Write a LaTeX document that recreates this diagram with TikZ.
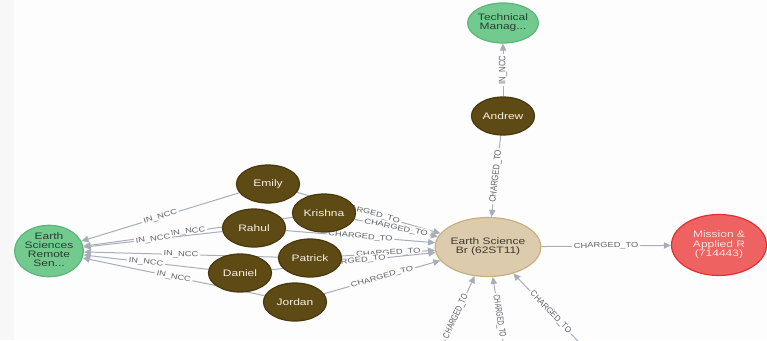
\documentclass[tikz,border=0pt]{standalone}
\usepackage{fontspec}
\setmainfont{Liberation Sans}
\usetikzlibrary{shapes.geometric,arrows.meta}

\pgfdeclarelayer{paper}
\pgfdeclarelayer{links}
\pgfsetlayers{paper,links,main}

% palette
\definecolor{personfill}{RGB}{94,74,20}
\definecolor{persondraw}{RGB}{72,56,12}
\definecolor{persontext}{RGB}{246,242,228}
\definecolor{nccfill}{RGB}{114,202,142}
\definecolor{nccdraw}{RGB}{92,182,120}
\definecolor{ncctext}{RGB}{42,62,48}
\definecolor{branchfill}{RGB}{220,203,172}
\definecolor{branchdraw}{RGB}{200,175,128}
\definecolor{branchtext}{RGB}{62,58,50}
\definecolor{missionfill}{RGB}{238,98,98}
\definecolor{missiondraw}{RGB}{226,48,48}
\definecolor{missiontext}{RGB}{252,228,228}
\definecolor{linkgray}{RGB}{168,174,184}
\definecolor{labelgray}{RGB}{96,98,104}
\definecolor{paperwhite}{RGB}{253,253,254}
\definecolor{sidestrip}{RGB}{247,247,247}

% text is set slightly flattened
\newcommand\squash[1]{\scalebox{1}[0.78]{#1}}
\newcommand\stack[1]{\squash{\begin{tabular}{@{}c@{}}#1\end{tabular}}}
% labels on steep links are shortened along their run instead
\newcommand\along[2]{\scalebox{#1}[1]{#2}}

\tikzset{
  bubble/.style={ellipse, line width=1.2pt, inner sep=0pt,
    font=\fontsize{12}{10.5}\selectfont},
  person/.style={bubble, draw=persondraw, fill=personfill, text=persontext,
    minimum width=63pt, minimum height=38pt},
  ncc/.style={bubble, draw=nccdraw, fill=nccfill, text=ncctext,
    minimum width=62pt, minimum height=40pt},
  branch/.style={bubble, draw=branchdraw, fill=branchfill, text=branchtext,
    minimum width=100pt, minimum height=59pt},
  mission/.style={bubble, draw=missiondraw, fill=missionfill, text=missiontext,
    minimum width=95pt, minimum height=61pt},
  link/.style={draw=linkgray, line width=1pt,
    -{Triangle[length=7pt,width=6.5pt,fill=linkgray]}},
  lbl/.style={sloped, midway, fill=paperwhite, inner sep=1.8pt, text=labelgray,
    font=\fontsize{9.3}{9.3}\selectfont},
}

\begin{document}
\begin{tikzpicture}[x=1pt,y=-1pt]
  \useasboundingbox (0,0) rectangle (767,340);
  \begin{pgfonlayer}{paper}
    \fill[paperwhite] (0,0) rectangle (767,340);
    \fill[sidestrip] (0,0) rectangle (14,340);
  \end{pgfonlayer}

  % accounts
  \node[ncc] (tech) at (503,23) {\stack{Technical\\Manag...}};
  \node[ncc] (esrs) at (49,251) {\stack{Earth\\Sciences\\Remote\\Sen...}};
  \node[branch] (esb) at (488,247) {\stack{Earth Science\\Br (62ST11)}};
  \node[mission] (mar) at (719,245) {\stack{Mission \&\\Applied R\\(714443)}};

  % people
  \node[person] (emily)   at (268,184) {\squash{Emily}};
  \node[person] (rahul)   at (254,228) {\squash{Rahul}};
  \node[person] (daniel)  at (240,273) {\squash{Daniel}};
  \node[person] (krishna) at (324,213) {\squash{Krishna}};
  \node[person] (patrick) at (310,258) {\squash{Patrick}};
  \node[person] (jordan)  at (295,302) {\squash{Jordan}};
  \node[person] (andrew)  at (503,116) {\squash{Andrew}};

  % loose ends of links coming in from below
  \coordinate (inA) at (436,360);
  \coordinate (inB) at (506,360);
  \coordinate (inC) at (596,360);

  \begin{pgfonlayer}{links}
    \draw[link] (andrew) -- node[lbl]{\along{0.82}{IN\_NCC}} (tech);
    \draw[link] (andrew) -- node[lbl]{\along{0.82}{CHARGED\_TO}} (esb);

    \draw[link] (emily)   -- node[lbl]{\squash{IN\_NCC}} (esrs);
    \draw[link] (krishna) -- node[lbl]{\squash{IN\_NCC}} (esrs);
    \draw[link] (rahul)   -- node[lbl]{\squash{IN\_NCC}} (esrs);
    \draw[link] (patrick) -- node[lbl]{\squash{IN\_NCC}} (esrs);
    \draw[link] (daniel)  -- node[lbl]{\squash{IN\_NCC}} (esrs);
    \draw[link] (jordan)  -- node[lbl]{\squash{IN\_NCC}} (esrs);

    \draw[link] (emily)   -- node[lbl]{\squash{CHARGED\_TO}} (esb);
    \draw[link] (krishna) -- node[lbl]{\squash{CHARGED\_TO}} (esb);
    \draw[link] (rahul)   -- node[lbl]{\squash{CHARGED\_TO}} (esb);
    \draw[link] (patrick) -- node[lbl]{\squash{CHARGED\_TO}} (esb);
    \draw[link] (daniel)  -- node[lbl]{\squash{CHARGED\_TO}} (esb);
    \draw[link] (jordan)  -- node[lbl]{\squash{CHARGED\_TO}} (esb);

    \draw[link] (esb) -- node[lbl]{\squash{CHARGED\_TO}} (mar);

    \draw[link] (inA) -- node[lbl,pos=0.52]{\along{0.74}{CHARGED\_TO}} (esb);
    \draw[link] (inB) -- node[lbl,pos=0.53]{\along{0.66}{CHARGED\_TO}} (esb);
    \draw[link] (inC) -- node[lbl,pos=0.55]{\along{0.86}{\scalebox{1}[0.9]{CHARGED\_TO}}} (esb);
  \end{pgfonlayer}
\end{tikzpicture}
\end{document}
